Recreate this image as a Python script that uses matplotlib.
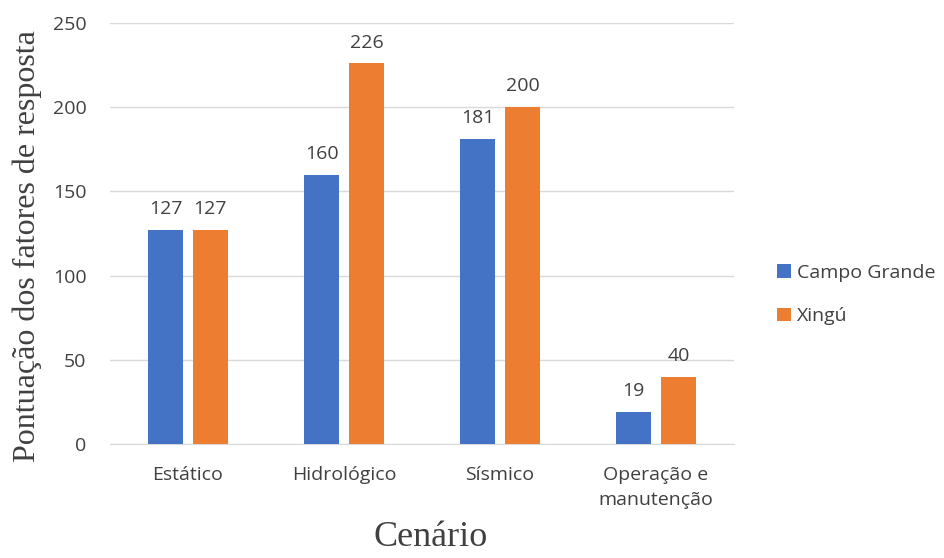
import numpy as np
import matplotlib.pyplot as plt

categories = ['Estático', 'Hidrológico', 'Sísmico', 'Operação e\nmanutenção']
campo_grande = [127, 160, 181, 19]
xingu = [127, 226, 200, 40]
series_names = ['Campo Grande', 'Xingú']

blue = '#4472C4'
orange = '#ED7D31'
sans = ['Open Sans', 'DejaVu Sans']
serif = ['Liberation Serif', 'DejaVu Serif']

fig = plt.figure(figsize=(9.44, 5.58), dpi=100)
ax = fig.add_axes([0.1165, 0.2043, 0.661, 0.7545])

x = np.arange(len(categories))
w = 0.225
off = 0.144
b1 = ax.bar(x - off, campo_grande, w, color=blue, label=series_names[0], zorder=3)
b2 = ax.bar(x + off, xingu, w, color=orange, label=series_names[1], zorder=3)

for bars in (b1, b2):
    for r in bars:
        ax.text(r.get_x() + r.get_width() / 2, r.get_height() + 7, f'{int(r.get_height())}',
                ha='center', va='bottom', fontsize=14, color='#404040', family=sans)

ax.set_xlim(-0.5, len(categories) - 0.5)
ax.set_ylim(0, 250)
ax.set_yticks(np.arange(0, 251, 50))
ax.grid(axis='y', color='#D9D9D9', linewidth=1, zorder=0)
for s in ['top', 'right', 'left']:
    ax.spines[s].set_visible(False)
ax.spines['bottom'].set_color('#D9D9D9')
ax.tick_params(axis='both', length=0, labelsize=14, labelcolor='#404040')
ax.tick_params(axis='y', pad=17)
ax.tick_params(axis='x', pad=16)
ax.set_xticks(x)
ax.set_xticklabels(categories, family=sans, linespacing=1.5)
for lab in ax.get_yticklabels():
    lab.set_family(sans)

fig.text(27 / 944, 1 - 246 / 558, 'Pontuação dos fatores de resposta', rotation=90,
         ha='center', va='center', family=serif, fontsize=23, color='#404040')
fig.text(431 / 944, 1 - 538 / 558, 'Cenário', ha='center', va='center',
         family=serif, fontsize=26, color='#404040')

fig.legend(handles=[b1, b2], loc='center left', bbox_to_anchor=(0.805, 0.472), frameon=False,
           prop={'family': sans, 'size': 14}, handlelength=0.7, handleheight=0.7,
           handletextpad=0.3, labelspacing=1.3, labelcolor='#404040')

fig.savefig('out.png', dpi=100)
